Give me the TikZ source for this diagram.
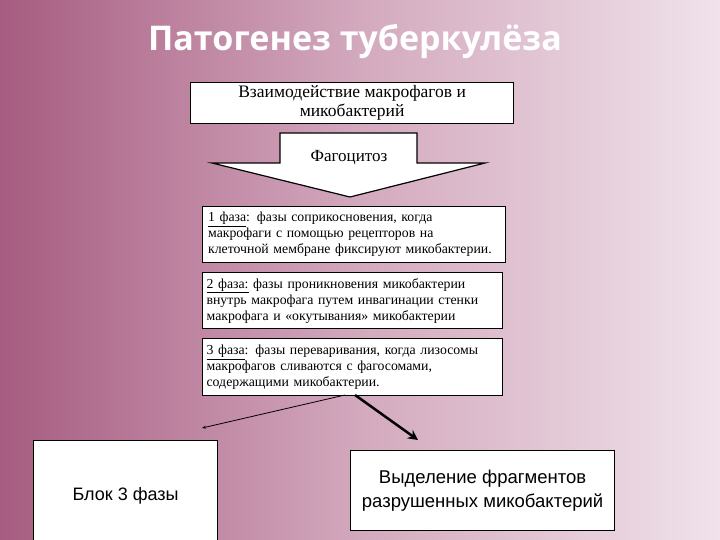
\documentclass[tikz,border=0pt]{standalone}
\usepackage{fontspec}
\setmainfont{Liberation Serif}
\newfontfamily\sansf{Liberation Sans}
\newfontfamily\titlef{Open Sans}
\usetikzlibrary{arrows.meta}
\definecolor{bgdark}{HTML}{A65C80}
\definecolor{bgmid}{HTML}{D3A9BE}
\definecolor{bglight}{HTML}{F0E2EA}
\begin{document}
\begin{tikzpicture}[x=1pt,y=-1pt,
  box/.style={draw=black,line width=1.2pt,fill=white},
  phase/.style={box,minimum width=300pt,minimum height=56pt,align=left,font=\fontsize{13.8}{16}\selectfont,inner xsep=4pt,inner ysep=2pt,text width=292pt,anchor=north west}]
\useasboundingbox (0,0) rectangle (720,540);
\shade[left color=bgdark,right color=bglight,middle color=bgmid] (0,0) rectangle (720,540);
\node[font=\titlef\bfseries\fontsize{34}{38}\selectfont,text=white] (title) at (355,42) {Патогенез туберкулёза};
\node[box,minimum width=323pt,minimum height=41pt,anchor=north west,align=center,inner sep=1pt,font=\fontsize{17.5}{19}\selectfont] (inter) at (190,82) {Взаимодействие макрофагов и\\микобактерий};
\draw[line width=1.2pt,fill=white] (280,133) -- (417,133) -- (417,163) -- (485,163) -- (350,197) -- (212,163) -- (280,163) -- cycle;
\node[font=\fontsize{17}{19}\selectfont] (fag) at (349,158) {Фагоцитоз};
\node[phase,minimum width=303pt] (p1) at (202,206) {\underline{1 фаза}: фазы соприкосновения, когда\\макрофаги с помощью рецепторов на\\клеточной мембране фиксируют микобактерии.};
\node[phase] (p2) at (202,272) {\underline{2 фаза:} фазы проникновения микобактерии\\внутрь макрофага путем инвагинации стенки\\макрофага и «окутывания» микобактерии};
\node[phase,minimum height=57pt] (p3) at (202,338) {\underline{3 фаза}: фазы переваривания, когда лизосомы\\макрофагов сливаются с фагосомами,\\содержащими микобактерии.};
\node[box,minimum width=184pt,minimum height=110pt,anchor=north west,font=\sansf\fontsize{18}{22}\selectfont] (b3) at (33,440) {Блок 3 фазы};
\node[box,minimum width=264pt,minimum height=80pt,anchor=north west,align=center,font=\sansf\fontsize{18.5}{24}\selectfont] (vyd) at (350,450) {Выделение фрагментов\\разрушенных микобактерий};
\coordinate (s1) at (345,395);
\coordinate (e1) at (202,428);
\coordinate (s2) at (355,395);
\coordinate (e2) at (418,440);
\draw[line width=0.8pt,-{Stealth[length=4pt,width=3pt]}] (s1) -- (e1);
\draw[line width=2.5pt,-{Stealth[length=10pt,width=10pt]}] (s2) -- (e2);
\end{tikzpicture}
\end{document}
